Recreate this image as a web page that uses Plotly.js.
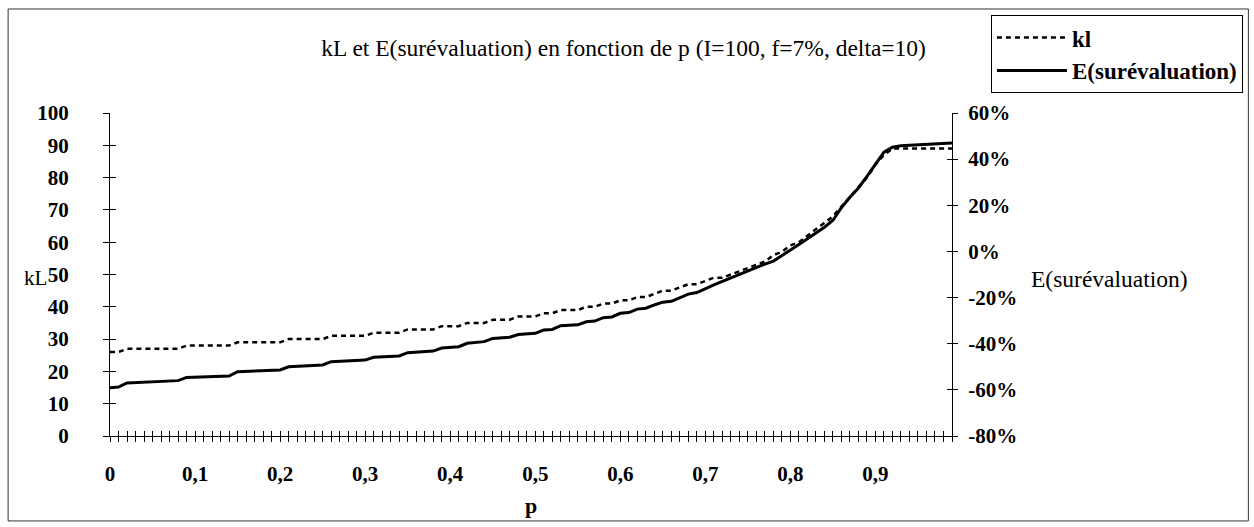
<!DOCTYPE html>
<html><head><meta charset="utf-8">
<script src="https://cdn.plot.ly/plotly-3.0.1.min.js"></script>
<style>html,body{margin:0;padding:0;background:#fff}#chart{width:1254px;height:527px}</style>
</head><body><div id="chart"></div>
<script>
// categories p
const p = [0,0.01,0.02,0.03,0.04,0.05,0.06,0.07,0.08,0.09,
0.10,0.11,0.12,0.13,0.14,0.15,0.16,0.17,0.18,0.19,
0.20,0.21,0.22,0.23,0.24,0.25,0.26,0.27,0.28,0.29,
0.30,0.31,0.32,0.33,0.34,0.35,0.36,0.37,0.38,0.39,
0.40,0.41,0.42,0.43,0.44,0.45,0.46,0.47,0.48,0.49,
0.50,0.51,0.52,0.53,0.54,0.55,0.56,0.57,0.58,0.59,
0.60,0.61,0.62,0.63,0.64,0.65,0.66,0.67,0.68,0.69,
0.70,0.71,0.72,0.73,0.74,0.75,0.76,0.77,0.78,0.79,
0.80,0.81,0.82,0.83,0.84,0.85,0.86,0.87,0.88,0.89,
0.90,0.91,0.92,0.93,0.94,0.95,0.96,0.97,0.98,0.99];
// series kl (left axis)
const kL = [26,26,27,27,27,27,27,27,27,28,
28,28,28,28,28,29,29,29,29,29,
29,30,30,30,30,30,31,31,31,31,
31,32,32,32,32,33,33,33,33,34,
34,34,35,35,35,36,36,36,37,37,
37,38,38,39,39,39,40,40,41,41,
42,42,43,43,44,45,45,46,47,47,
48,49,49,50,51,52,53,54,56,57,
59,60,62,64,66,68,71,74,77,80,
84,87,89,89,89,89,89,89,89,89];
// series E(surévaluation) (right axis, fraction)
const eSur = [-0.591,-0.588,-0.570,-0.568,-0.567,-0.565,-0.563,-0.562,-0.560,-0.546,
-0.545,-0.544,-0.543,-0.541,-0.540,-0.521,-0.520,-0.518,-0.517,-0.515,
-0.514,-0.500,-0.498,-0.496,-0.494,-0.492,-0.478,-0.476,-0.474,-0.473,
-0.471,-0.459,-0.457,-0.455,-0.453,-0.439,-0.437,-0.434,-0.432,-0.419,
-0.416,-0.413,-0.398,-0.395,-0.391,-0.377,-0.375,-0.372,-0.360,-0.357,
-0.355,-0.341,-0.338,-0.322,-0.320,-0.318,-0.305,-0.302,-0.287,-0.284,
-0.268,-0.265,-0.250,-0.246,-0.232,-0.220,-0.216,-0.200,-0.185,-0.178,
-0.160,-0.145,-0.130,-0.115,-0.100,-0.083,-0.068,-0.055,-0.042,-0.018,
0.003,0.030,0.055,0.080,0.105,0.135,0.190,0.235,0.275,0.325,
0.380,0.430,0.452,0.458,0.460,0.462,0.464,0.466,0.468,0.470];
// tick labels
const xLabelVals = [0,0.1,0.2,0.3,0.4,0.5,0.6,0.7,0.8,0.9];
const xLabelText = ["0","0,1","0,2","0,3","0,4","0,5","0,6","0,7","0,8","0,9"];
const leftTickVals = [0,10,20,30,40,50,60,70,80,90,100];
const rightTickVals = [-0.8,-0.6,-0.4,-0.2,0,0.2,0.4,0.6];
const rightTickText = ["-80%","-60%","-40%","-20%","0%","20%","40%","60%"];

const xTickText = p.map(v => {
  const i = xLabelVals.findIndex(t => Math.abs(t - v) < 1e-9);
  return i >= 0 ? xLabelText[i] : "";
});

const FONT = "Liberation Serif, Times New Roman, serif";
const tickFont = {family: FONT, size: 21, color: "#000", weight: "bold"};

const traces = [
  {x: p, y: kL, name: "kl", type: "scatter", mode: "lines", xaxis: "x", yaxis: "y",
   line: {color: "#000", width: 2.5, dash: "5px,4px"}},
  {x: p, y: eSur, name: "E(surévaluation)", type: "scatter", mode: "lines", xaxis: "x", yaxis: "y2",
   line: {color: "#000", width: 3}},
  // empty helpers so the inner (crossing) tick axes are drawn; they carry no data
  {x: [], y: [], type: "scatter", mode: "lines", xaxis: "x2", yaxis: "y3", showlegend: false, hoverinfo: "skip"},
  {x: [], y: [], type: "scatter", mode: "lines", xaxis: "x2", yaxis: "y4", showlegend: false, hoverinfo: "skip"}
];

const layout = {
  width: 1254, height: 527,
  paper_bgcolor: "#fff", plot_bgcolor: "#fff",
  margin: {l: 110, r: 301, t: 113, b: 91, pad: 0},
  font: {family: FONT, color: "#000", size: 21},
  showlegend: true,
  title: {text: "kL et E(surévaluation) en fonction de p (I=100, f=7%, delta=10)",
          font: {family: FONT, size: 23.5, color: "#000"},
          x: 0.61, xref: "paper", xanchor: "center", y: 0.909, yref: "container", yanchor: "middle"},
  xaxis: {range: [0, 0.99], tickmode: "array", tickvals: p, ticktext: xTickText,
          ticks: "outside", ticklen: 5, tickwidth: 1, tickcolor: "#000",
          showline: true, linecolor: "#000", linewidth: 1, showgrid: false, zeroline: false,
          tickfont: tickFont, ticklabelstandoff: 14,
          title: {text: "p", font: {family: FONT, size: 22, color: "#000", weight: "bold"}, standoff: 12}},
  xaxis2: {overlaying: "x", anchor: "y", side: "bottom", range: [0, 0.99], tickmode: "array", tickvals: p,
           ticks: "inside", ticklen: 5, tickwidth: 1, tickcolor: "#000", showticklabels: false,
           showline: false, showgrid: false, zeroline: false},
  yaxis: {range: [0, 100], tickmode: "array", tickvals: leftTickVals,
          ticks: "outside", ticklen: 6, tickwidth: 1, tickcolor: "#000",
          showline: true, linecolor: "#000", linewidth: 1, showgrid: false, zeroline: false,
          tickfont: tickFont, ticklabelstandoff: 30},
  yaxis3: {overlaying: "y", anchor: "x", side: "left", range: [0, 100], tickmode: "array", tickvals: leftTickVals,
           ticks: "inside", ticklen: 6, tickwidth: 1, tickcolor: "#000", showticklabels: false,
           showline: false, showgrid: false, zeroline: false},
  yaxis2: {overlaying: "y", anchor: "x", side: "right", range: [-0.8, 0.6], tickmode: "array",
           tickvals: rightTickVals, ticktext: rightTickText,
           ticks: "outside", ticklen: 5, tickwidth: 1, tickcolor: "#000",
           showline: true, linecolor: "#000", linewidth: 1, showgrid: false, zeroline: false,
           tickfont: tickFont, ticklabelstandoff: 6},
  yaxis4: {overlaying: "y", anchor: "x", side: "right", range: [-0.8, 0.6], tickmode: "array",
           tickvals: rightTickVals, ticks: "inside", ticklen: 5, tickwidth: 1, tickcolor: "#000",
           showticklabels: false, showline: false, showgrid: false, zeroline: false},
  legend: {x: 1.045, y: 1.303, xref: "paper", yref: "paper", xanchor: "left", yanchor: "top",
           bordercolor: "#000", borderwidth: 1, bgcolor: "#fff",
           font: {family: FONT, size: 23, color: "#000", weight: "bold"},
           itemwidth: 70, tracegroupgap: 6},
  annotations: [
    {text: "kL", xref: "paper", yref: "paper", x: -0.088, y: 0.489, xanchor: "center", yanchor: "middle",
     showarrow: false, font: {family: FONT, size: 21, color: "#000"}},
    {text: "E(surévaluation)", xref: "paper", yref: "paper", x: 1.091, y: 0.485, xanchor: "left", yanchor: "middle",
     showarrow: false, font: {family: FONT, size: 23.5, color: "#000"}}
  ],
  shapes: [
    {type: "rect", xref: "paper", yref: "paper", x0: -0.121, x1: 1.352, y0: -0.263, y1: 1.322,
     line: {color: "#333", width: 1}, fillcolor: "rgba(0,0,0,0)", layer: "below"}
  ]
};

Plotly.newPlot("chart", traces, layout, {displayModeBar: false, staticPlot: true});
</script>
</body></html>
